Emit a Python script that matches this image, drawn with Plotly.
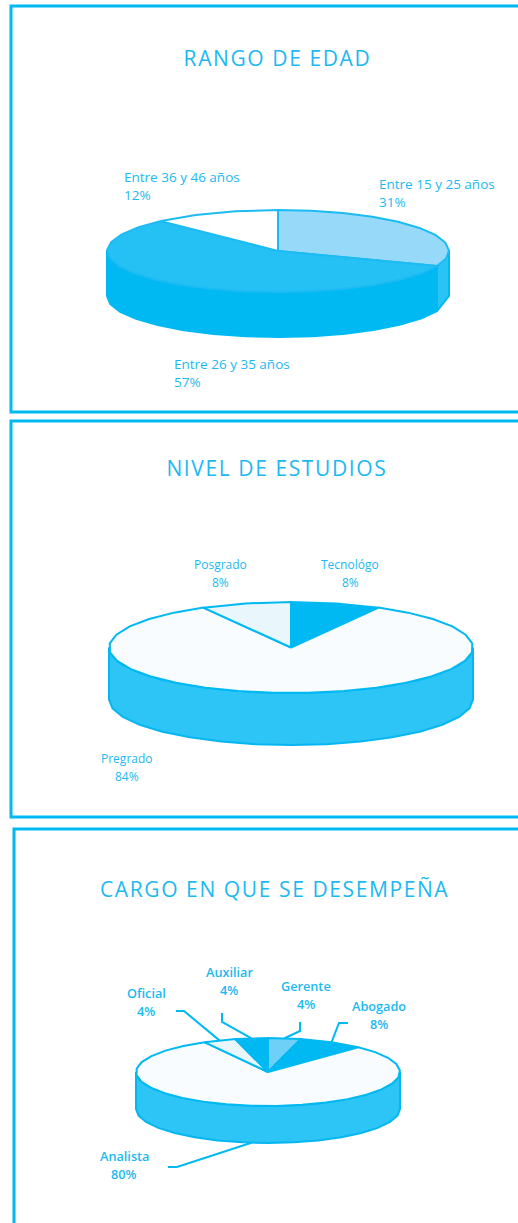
import numpy as np
import plotly.graph_objects as go

# Survey shares, clockwise from twelve o'clock
edad_labels = ["Entre 15 y 25 años", "Entre 26 y 35 años", "Entre 36 y 46 años"]
edad_values = [31, 57, 12]
estudios_labels = ["Tecnológo", "Pregrado", "Posgrado"]
estudios_values = [8, 84, 8]
cargo_labels = ["Gerente", "Abogado", "Analista", "Oficial", "Auxiliar"]
cargo_values = [4, 8, 80, 4, 4]

INK = "#00B9F2"
TEXT = "#1CB9F1"
TITLE_SPACING = "1.6px"
LINE_GAP = 18

panels = [
    dict(title="RANGO DE EDAD", title_xy=(277, 58), frame=(11, 6, 540, 412),
         labels=edad_labels, values=edad_values,
         cx=278, cy=251, rx=171, ry=41, depth=45,
         top=["#96D9F9", "#25C1F4", "#FFFFFF"],
         side=["#2AC3F5", "#00B9F2", "#00B9F2"],
         edge=["#1DBBF3", "#1DBBF3", "#1DBBF3"], wall_edge="#00B9F2",
         text_xy=[(377, 193), (172, 372.5), (122, 186)], align="left",
         size=13.5, weight=400),
    dict(title="NIVEL DE ESTUDIOS", title_xy=(277, 468), frame=(11, 421, 540, 817),
         labels=estudios_labels, values=estudios_values,
         cx=291, cy=647.5, rx=182, ry=45.5, depth=52,
         top=["#00B9F2", "#F8FCFE", "#E9F7FD"],
         side=["#2DC4F6", "#2DC4F6", "#2DC4F6"],
         edge=[INK, INK, INK], wall_edge="#06B6F0",
         text_xy=[(350, 573), (127, 767), (220, 573)], align="center",
         size=12, weight=400),
    dict(title="CARGO EN QUE SE DESEMPEÑA", title_xy=(275, 889), frame=(14, 829, 540, 1300),
         labels=cargo_labels, values=cargo_values,
         cx=268, cy=1072, rx=132, ry=34, depth=37,
         top=["#6FD0F7", "#00B9F2", "#F8FCFE", "#E9F7FD", "#00B9F2"],
         side=["#2DC4F6"] * 5,
         edge=[INK] * 5, wall_edge="#06B6F0",
         text_xy=[(306, 995), (379, 1015), (124, 1165), (146, 1002), (229, 981)],
         align="center", size=12.7, weight=600,
         leaders=[[(300, 1022), (300, 1031)], [(348, 1023), (339, 1023)],
                  [(168, 1167), (177, 1167)], [(176, 1011), (184, 1011)],
                  [(222, 1013), (222, 1022)]]),
]


def arc(p, a, b, drop=0.0):
    """Points on the pie rim between two clockwise angles, in degrees."""
    n = max(int(abs(b - a) // 11), 1)
    t = np.radians(np.linspace(a, b, n + 1))
    return p["cx"] + p["rx"] * np.sin(t), p["cy"] - p["ry"] * np.cos(t) + drop


fig = go.Figure()
annotations = []
shapes = []


def polygon(xs, ys, fill, line, width=2):
    fig.add_trace(go.Scatter(x=xs, y=ys, mode="lines", fill="toself", fillcolor=fill,
                             line=dict(color=line, width=width), hoverinfo="skip",
                             showlegend=False))


for p in panels:
    x0, y0, x1, y1 = p["frame"]
    shapes.append(dict(type="rect", x0=x0, y0=y0, x1=x1, y1=y1,
                       line=dict(color=INK, width=3), fillcolor="rgba(0,0,0,0)"))
    annotations.append(dict(x=p["title_xy"][0], y=p["title_xy"][1], text=p["title"],
                            showarrow=False, xanchor="center", yanchor="middle",
                            font=dict(family="Open Sans", size=21, color=TEXT)))

    total = sum(p["values"])
    bounds = np.concatenate([[0], np.cumsum(p["values"])]) * 360.0 / total
    pairs = list(zip(bounds[:-1], bounds[1:]))

    # Outer wall: only the front half of the rim (90 to 270 degrees) can be seen
    for (a, b), colour in zip(pairs, p["side"]):
        lo, hi = max(a, 90.0), min(b, 270.0)
        if hi <= lo:
            continue
        xt, yt = arc(p, lo, hi)
        xb, yb = arc(p, lo, hi, drop=p["depth"])
        polygon(np.r_[xt, xb[::-1], xt[0]], np.r_[yt, yb[::-1], yt[0]], colour, p["wall_edge"])

    # Top face wedges
    for (a, b), colour, edge in zip(pairs, p["top"], p["edge"]):
        xt, yt = arc(p, a, b)
        polygon(np.r_[p["cx"], xt, p["cx"]], np.r_[p["cy"], yt, p["cy"]], colour, edge)

    # Leader lines run from a slice's mid-angle on the rim out to an elbow
    for i, elbow in enumerate(p.get("leaders", [])):
        mid = (pairs[i][0] + pairs[i][1]) / 2
        drop = p["depth"] if 90 < mid < 270 else 0.0
        xm, ym = arc(p, mid, mid, drop=drop)
        fig.add_trace(go.Scatter(x=[elbow[0][0], elbow[1][0], xm[0]],
                                 y=[elbow[0][1], elbow[1][1], ym[0]],
                                 mode="lines", line=dict(color=INK, width=2),
                                 hoverinfo="skip", showlegend=False))

    # Slice name above its share, on two separately placed lines
    for name, value, (tx, ty) in zip(p["labels"], p["values"], p["text_xy"]):
        for line, offset in ((name, -LINE_GAP / 2), (f"{value}%", LINE_GAP / 2)):
            annotations.append(dict(x=tx, y=ty + offset, text=line, showarrow=False,
                                    xanchor="left" if p["align"] == "left" else "center",
                                    yanchor="middle",
                                    font=dict(family="Open Sans", size=p["size"], color=TEXT,
                                              weight=p["weight"])))

hidden = dict(visible=False, fixedrange=True)
fig.update_layout(
    width=518, height=1223, autosize=False,
    margin=dict(l=0, r=0, t=0, b=0),
    paper_bgcolor="white", plot_bgcolor="white",
    xaxis=dict(range=[0, 518], **hidden),
    yaxis=dict(range=[1223, 0], **hidden),
    shapes=shapes, annotations=annotations, showlegend=False,
)

# Panel headings are letter-spaced
spacing_js = (
    "document.querySelectorAll('.annotation-text').forEach(function(el){"
    "if(parseFloat(el.style.fontSize)>=18){el.style.letterSpacing='" + TITLE_SPACING + "';}});"
)
fig.write_html("out.html", post_script=spacing_js, config={"displayModeBar": False})
